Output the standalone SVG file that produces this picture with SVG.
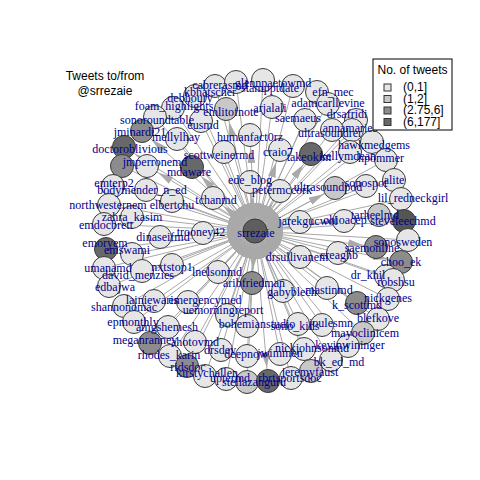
<svg xmlns="http://www.w3.org/2000/svg" width="480" height="480" viewBox="0 0 480 480">
<style>
.e{stroke:#a9a9a9;stroke-width:1;fill:none;marker-end:url(#ah)}
.b{marker-start:url(#ah)}
.node circle{stroke:#3a3a3a;stroke-width:1}
.c1{fill:#e6e6e6}.c2{fill:#c8c8c8}.c3{fill:#8c8c8c}.c4{fill:#686868}
.lbl{font-family:"Liberation Serif",serif;font-size:12px;fill:#00008b;text-anchor:middle}
.ttl{font-family:"Liberation Sans",Arial,sans-serif;font-size:12px;fill:#000}
</style>
<defs>
<marker id="ah" viewBox="0 0 28 8" markerWidth="28" markerHeight="8" refX="28" refY="4" orient="auto-start-reverse" markerUnits="userSpaceOnUse"><path d="M0,0 L15,4 L0,8 z" fill="#a9a9a9"/></marker>
</defs>
<rect width="480" height="480" fill="#fff"/>
<g id="connectors">
<circle cx="255" cy="231" r="25" fill="#b4b4b4"/>
<line class="e" x1="215" y1="86" x2="255" y2="231"/>
<line class="e" x1="195" y1="96" x2="255" y2="231"/>
<line class="e" x1="236" y1="82" x2="255" y2="231"/>
<line class="e" x1="263" y1="80" x2="255" y2="231"/>
<line class="e" x1="293" y1="86" x2="255" y2="231"/>
<line class="e" x1="317" y1="92" x2="255" y2="231"/>
<line class="e" x1="328" y1="104" x2="255" y2="231"/>
<line class="e" x1="356" y1="120" x2="255" y2="231"/>
<line class="e" x1="352" y1="130" x2="255" y2="231"/>
<line class="e" x1="332" y1="130" x2="255" y2="231"/>
<line class="e" x1="305" y1="120" x2="255" y2="231"/>
<line class="e" x1="272" y1="107" x2="255" y2="231"/>
<line class="e b" x1="226" y1="109" x2="255" y2="231"/>
<line class="e" x1="201" y1="121" x2="255" y2="231"/>
<line class="e" x1="173" y1="108" x2="255" y2="231"/>
<line class="e" x1="155" y1="117" x2="255" y2="231"/>
<line class="e" x1="177" y1="139" x2="255" y2="231"/>
<line class="e b" x1="250" y1="135" x2="255" y2="231"/>
<line class="e b" x1="142" y1="131" x2="255" y2="231"/>
<line class="e b" x1="124" y1="147" x2="255" y2="231"/>
<line class="e" x1="122" y1="166" x2="255" y2="231"/>
<line class="e b" x1="147" y1="166" x2="255" y2="231"/>
<line class="e b" x1="192" y1="167" x2="255" y2="231"/>
<line class="e" x1="224" y1="152" x2="255" y2="231"/>
<line class="e b" x1="280" y1="150" x2="255" y2="231"/>
<line class="e b" x1="311" y1="154" x2="255" y2="231"/>
<line class="e" x1="350" y1="152" x2="255" y2="231"/>
<line class="e" x1="372" y1="142" x2="255" y2="231"/>
<line class="e" x1="386" y1="160" x2="255" y2="231"/>
<line class="e b" x1="250" y1="182" x2="255" y2="231"/>
<line class="e b" x1="280" y1="191" x2="255" y2="231"/>
<line class="e b" x1="335" y1="188" x2="255" y2="231"/>
<line class="e" x1="366" y1="186" x2="255" y2="231"/>
<line class="e" x1="394" y1="180" x2="255" y2="231"/>
<line class="e" x1="401" y1="199" x2="255" y2="231"/>
<line class="e" x1="113" y1="186" x2="255" y2="231"/>
<line class="e" x1="146" y1="190" x2="255" y2="231"/>
<line class="e" x1="109" y1="205" x2="255" y2="231"/>
<line class="e" x1="172" y1="201" x2="255" y2="231"/>
<line class="e b" x1="213" y1="198" x2="255" y2="231"/>
<line class="e" x1="132" y1="217" x2="255" y2="231"/>
<line class="e" x1="104" y1="224" x2="255" y2="231"/>
<line class="e" x1="160" y1="237" x2="255" y2="231"/>
<line class="e" x1="203" y1="233" x2="255" y2="231"/>
<line class="e" x1="300" y1="222" x2="255" y2="231"/>
<line class="e" x1="344" y1="221" x2="255" y2="231"/>
<line class="e" x1="379" y1="215" x2="255" y2="231"/>
<line class="e b" x1="404" y1="221" x2="255" y2="231"/>
<line class="e b" x1="106" y1="249" x2="255" y2="231"/>
<line class="e" x1="132" y1="254" x2="255" y2="231"/>
<line class="e b" x1="376" y1="247" x2="255" y2="231"/>
<line class="e" x1="408" y1="240" x2="255" y2="231"/>
<line class="e b" x1="401" y1="262" x2="255" y2="231"/>
<line class="e" x1="338" y1="253" x2="255" y2="231"/>
<line class="e" x1="300" y1="257" x2="255" y2="231"/>
<line class="e" x1="104" y1="268" x2="255" y2="231"/>
<line class="e" x1="142" y1="271" x2="255" y2="231"/>
<line class="e" x1="172" y1="265" x2="255" y2="231"/>
<line class="e" x1="218" y1="272" x2="255" y2="231"/>
<line class="e" x1="386" y1="276" x2="255" y2="231"/>
<line class="e" x1="393" y1="280" x2="255" y2="231"/>
<line class="e b" x1="252" y1="283" x2="255" y2="231"/>
<line class="e" x1="283" y1="291" x2="255" y2="231"/>
<line class="e" x1="327" y1="288" x2="255" y2="231"/>
<line class="e" x1="109" y1="286" x2="255" y2="231"/>
<line class="e" x1="154" y1="301" x2="255" y2="231"/>
<line class="e" x1="188" y1="302" x2="255" y2="231"/>
<line class="e" x1="227" y1="315" x2="255" y2="231"/>
<line class="e" x1="388" y1="299" x2="255" y2="231"/>
<line class="e b" x1="357" y1="303" x2="255" y2="231"/>
<line class="e" x1="124" y1="306" x2="255" y2="231"/>
<line class="e" x1="378" y1="319" x2="255" y2="231"/>
<line class="e" x1="363" y1="333" x2="255" y2="231"/>
<line class="e" x1="348" y1="346" x2="255" y2="231"/>
<line class="e" x1="134" y1="322" x2="255" y2="231"/>
<line class="e" x1="168" y1="327" x2="255" y2="231"/>
<line class="e" x1="247" y1="326" x2="255" y2="231"/>
<line class="e" x1="298" y1="324" x2="255" y2="231"/>
<line class="e" x1="322" y1="325" x2="255" y2="231"/>
<line class="e b" x1="150" y1="343" x2="255" y2="231"/>
<line class="e" x1="195" y1="342" x2="255" y2="231"/>
<line class="e" x1="221" y1="350" x2="255" y2="231"/>
<line class="e" x1="304" y1="349" x2="255" y2="231"/>
<line class="e" x1="331" y1="360" x2="255" y2="231"/>
<line class="e" x1="170" y1="356" x2="255" y2="231"/>
<line class="e" x1="247" y1="356" x2="255" y2="231"/>
<line class="e" x1="280" y1="354" x2="255" y2="231"/>
<line class="e" x1="187" y1="366" x2="255" y2="231"/>
<line class="e" x1="205" y1="376" x2="255" y2="231"/>
<line class="e" x1="226" y1="379" x2="255" y2="231"/>
<line class="e" x1="247" y1="382" x2="255" y2="231"/>
<line class="e b" x1="268" y1="381" x2="255" y2="231"/>
<line class="e" x1="291" y1="378" x2="255" y2="231"/>
<line class="e" x1="311" y1="371" x2="255" y2="231"/>
</g>
<g id="nodes">
<g id="n-kbhatscher" class="node"><circle class="c1" cx="215" cy="86" r="11.5"/></g>
<g id="n-debhoury" class="node"><circle class="c1" cx="195" cy="96" r="11.5"/></g>
<g id="n-cabrerasmd" class="node"><circle class="c1" cx="236" cy="82" r="11.5"/></g>
<g id="n-glennpaetowmd" class="node"><circle class="c1" cx="263" cy="80" r="11.5"/></g>
<g id="n-stampptdate" class="node"><circle class="c1" cx="293" cy="86" r="11.5"/></g>
<g id="n-efn_mec" class="node"><circle class="c1" cx="317" cy="92" r="11.5"/></g>
<g id="n-adamcarllevine" class="node"><circle class="c1" cx="328" cy="104" r="11.5"/></g>
<g id="n-drsafridi" class="node"><circle class="c1" cx="356" cy="120" r="11.5"/></g>
<g id="n-annamaries" class="node"><circle class="c1" cx="352" cy="130" r="11.5"/></g>
<g id="n-ultrasoundrer" class="node"><circle class="c1" cx="332" cy="130" r="11.5"/></g>
<g id="n-saemaeus" class="node"><circle class="c1" cx="305" cy="120" r="11.5"/></g>
<g id="n-arjalali" class="node"><circle class="c1" cx="272" cy="107" r="11.5"/></g>
<g id="n-emlitofnote" class="node"><circle class="c2" cx="226" cy="109" r="11.5"/></g>
<g id="n-eusmd" class="node"><circle class="c1" cx="201" cy="121" r="11.5"/></g>
<g id="n-foam_highlights" class="node"><circle class="c1" cx="173" cy="108" r="11.5"/></g>
<g id="n-sonoroundtable" class="node"><circle class="c1" cx="155" cy="117" r="11.5"/></g>
<g id="n-mellylhay" class="node"><circle class="c1" cx="177" cy="139" r="11.5"/></g>
<g id="n-humanfact0rz" class="node"><circle class="c1" cx="250" cy="135" r="11.5"/></g>
<g id="n-jminardi21" class="node"><circle class="c3" cx="142" cy="131" r="11.5"/></g>
<g id="n-doctoroblivious" class="node"><circle class="c4" cx="124" cy="147" r="11.5"/></g>
<g id="n-unlabeled1" class="node"><circle class="c3" cx="122" cy="166" r="11.5"/></g>
<g id="n-jmperronemd" class="node"><circle class="c1" cx="147" cy="166" r="11.5"/></g>
<g id="n-mdaware" class="node"><circle class="c4" cx="192" cy="167" r="11.5"/></g>
<g id="n-scottweinermd" class="node"><circle class="c1" cx="224" cy="152" r="11.5"/></g>
<g id="n-craio7" class="node"><circle class="c1" cx="280" cy="150" r="11.5"/></g>
<g id="n-takeokim" class="node"><circle class="c4" cx="311" cy="154" r="11.5"/></g>
<g id="n-kellymdean" class="node"><circle class="c1" cx="350" cy="152" r="11.5"/></g>
<g id="n-hawkmedgems" class="node"><circle class="c1" cx="372" cy="142" r="11.5"/></g>
<g id="n-hpommer" class="node"><circle class="c1" cx="386" cy="160" r="11.5"/></g>
<g id="n-ede_blog" class="node"><circle class="c1" cx="250" cy="182" r="11.5"/></g>
<g id="n-petermccork" class="node"><circle class="c1" cx="280" cy="191" r="11.5"/></g>
<g id="n-ultrasoundpod" class="node"><circle class="c2" cx="335" cy="188" r="11.5"/></g>
<g id="n-sonospot" class="node"><circle class="c1" cx="366" cy="186" r="11.5"/></g>
<g id="n-alite" class="node"><circle class="c1" cx="394" cy="180" r="11.5"/></g>
<g id="n-lil_redneckgirl" class="node"><circle class="c1" cx="401" cy="199" r="11.5"/></g>
<g id="n-emterp2" class="node"><circle class="c1" cx="113" cy="186" r="11.5"/></g>
<g id="n-bodymender_n_ed" class="node"><circle class="c1" cx="146" cy="190" r="11.5"/></g>
<g id="n-northwesternem" class="node"><circle class="c1" cx="109" cy="205" r="11.5"/></g>
<g id="n-elbertchu" class="node"><circle class="c1" cx="172" cy="201" r="11.5"/></g>
<g id="n-tchanmd" class="node"><circle class="c1" cx="213" cy="198" r="11.5"/></g>
<g id="n-zahra_kasim" class="node"><circle class="c1" cx="132" cy="217" r="11.5"/></g>
<g id="n-emdocbrett" class="node"><circle class="c1" cx="104" cy="224" r="11.5"/></g>
<g id="n-dinaseifmd" class="node"><circle class="c1" cx="160" cy="237" r="11.5"/></g>
<g id="n-trooney42" class="node"><circle class="c1" cx="203" cy="233" r="11.5"/></g>
<g id="n-jarekgucwol" class="node"><circle class="c1" cx="300" cy="222" r="11.5"/></g>
<g id="n-ohioacep" class="node"><circle class="c1" cx="344" cy="221" r="11.5"/></g>
<g id="n-tarheelmd" class="node"><circle class="c2" cx="379" cy="215" r="11.5"/></g>
<g id="n-steveleechmd" class="node"><circle fill="#555" cx="404" cy="221" r="11.5"/></g>
<g id="n-emoryem" class="node"><circle class="c4" cx="106" cy="249" r="11.5"/></g>
<g id="n-emswami" class="node"><circle class="c1" cx="132" cy="254" r="11.5"/></g>
<g id="n-saemonline" class="node"><circle class="c3" cx="376" cy="247" r="11.5"/></g>
<g id="n-sonosweden" class="node"><circle class="c1" cx="408" cy="240" r="11.5"/></g>
<g id="n-choo_ek" class="node"><circle class="c3" cx="401" cy="262" r="11.5"/></g>
<g id="n-creaghb" class="node"><circle class="c1" cx="338" cy="253" r="11.5"/></g>
<g id="n-drsullivanem" class="node"><circle class="c1" cx="300" cy="257" r="11.5"/></g>
<g id="n-umanamd" class="node"><circle class="c1" cx="104" cy="268" r="11.5"/></g>
<g id="n-david_menzies" class="node"><circle class="c1" cx="142" cy="271" r="11.5"/></g>
<g id="n-nxtstop1" class="node"><circle class="c1" cx="172" cy="265" r="11.5"/></g>
<g id="n-lnelsonmd" class="node"><circle class="c1" cx="218" cy="272" r="11.5"/></g>
<g id="n-dr_khil" class="node"><circle class="c1" cx="386" cy="276" r="11.5"/></g>
<g id="n-robshsu" class="node"><circle class="c1" cx="393" cy="280" r="11.5"/></g>
<g id="n-aribfriedman" class="node"><circle class="c3" cx="252" cy="283" r="11.5"/></g>
<g id="n-gabyblech" class="node"><circle class="c1" cx="283" cy="291" r="11.5"/></g>
<g id="n-mastinmd" class="node"><circle class="c1" cx="327" cy="288" r="11.5"/></g>
<g id="n-edbajwa" class="node"><circle class="c1" cx="109" cy="286" r="11.5"/></g>
<g id="n-lainiewaris" class="node"><circle class="c1" cx="154" cy="301" r="11.5"/></g>
<g id="n-emergencymed" class="node"><circle class="c1" cx="188" cy="302" r="11.5"/></g>
<g id="n-uemorningreport" class="node"><circle class="c1" cx="227" cy="315" r="11.5"/></g>
<g id="n-nickgenes" class="node"><circle class="c1" cx="388" cy="299" r="11.5"/></g>
<g id="n-k_scottmd" class="node"><circle class="c3" cx="357" cy="303" r="11.5"/></g>
<g id="n-shannonomac" class="node"><circle class="c1" cx="124" cy="306" r="11.5"/></g>
<g id="n-blefkove" class="node"><circle class="c1" cx="378" cy="319" r="11.5"/></g>
<g id="n-mayoclinicem" class="node"><circle class="c2" cx="363" cy="333" r="11.5"/></g>
<g id="n-kevinwininger" class="node"><circle class="c1" cx="348" cy="346" r="11.5"/></g>
<g id="n-epmonthly" class="node"><circle class="c1" cx="134" cy="322" r="11.5"/></g>
<g id="n-amgshemesh" class="node"><circle class="c1" cx="168" cy="327" r="11.5"/></g>
<g id="n-bohemianstudio" class="node"><circle class="c1" cx="247" cy="326" r="11.5"/></g>
<g id="n-sono_kids" class="node"><circle class="c1" cx="298" cy="324" r="11.5"/></g>
<g id="n-joulesmn" class="node"><circle class="c1" cx="322" cy="325" r="11.5"/></g>
<g id="n-meganranney" class="node"><circle class="c3" cx="150" cy="343" r="11.5"/></g>
<g id="n-ahotovmd" class="node"><circle class="c1" cx="195" cy="342" r="11.5"/></g>
<g id="n-drsdev" class="node"><circle class="c1" cx="221" cy="350" r="11.5"/></g>
<g id="n-nickjohnsonmd" class="node"><circle class="c1" cx="304" cy="349" r="11.5"/></g>
<g id="n-bk_ed_md" class="node"><circle class="c1" cx="331" cy="360" r="11.5"/></g>
<g id="n-rhodes_karin" class="node"><circle class="c1" cx="170" cy="356" r="11.5"/></g>
<g id="n-deepnow" class="node"><circle class="c1" cx="247" cy="356" r="11.5"/></g>
<g id="n-jwimmen" class="node"><circle class="c1" cx="280" cy="354" r="11.5"/></g>
<g id="n-ridsdoc" class="node"><circle class="c3" cx="187" cy="366" r="11.5"/></g>
<g id="n-kirstychallen" class="node"><circle class="c1" cx="205" cy="376" r="11.5"/></g>
<g id="n-uptermd" class="node"><circle class="c1" cx="226" cy="379" r="11.5"/></g>
<g id="n-stellazanguru" class="node"><circle class="c2" cx="247" cy="382" r="11.5"/></g>
<g id="n-unlabeled2" class="node"><circle class="c4" cx="268" cy="381" r="11.5"/></g>
<g id="n-rbrtsportsdoc" class="node"><circle class="c1" cx="291" cy="378" r="11.5"/></g>
<g id="n-jeremyfaust" class="node"><circle class="c2" cx="311" cy="371" r="11.5"/></g>
<g id="n-srrezaie" class="node"><circle fill="#5e5e5e" cx="255" cy="231" r="12"/></g>
</g>
<g id="labels">
<text class="lbl" x="210" y="96">kbhatscher</text>
<text class="lbl" x="190" y="102">debhoury</text>
<text class="lbl" x="220" y="89">cabrerasmd</text>
<text class="lbl" x="273" y="87">glennpaetowmd</text>
<text class="lbl" x="270" y="92">stampptdate</text>
<text class="lbl" x="333" y="96">efn_mec</text>
<text class="lbl" x="328" y="107">adamcarllevine</text>
<text class="lbl" x="347" y="118">drsafridi</text>
<text class="lbl" x="350" y="132">annamaries</text>
<text class="lbl" x="330" y="137">ultrasoundrer</text>
<text class="lbl" x="298" y="122">saemaeus</text>
<text class="lbl" x="270" y="112">arjalali</text>
<text class="lbl" x="231" y="116">emlitofnote</text>
<text class="lbl" x="203" y="129">eusmd</text>
<text class="lbl" x="174" y="110">foam_highlights</text>
<text class="lbl" x="157" y="124">sonoroundtable</text>
<text class="lbl" x="176" y="141">mellylhay</text>
<text class="lbl" x="250" y="141">humanfact0rz</text>
<text class="lbl" x="140" y="136">jminardi21</text>
<text class="lbl" x="130" y="153">doctoroblivious</text>
<text class="lbl" x="155" y="166">jmperronemd</text>
<text class="lbl" x="189" y="176">mdaware</text>
<text class="lbl" x="219" y="159">scottweinermd</text>
<text class="lbl" x="278" y="156">craio7</text>
<text class="lbl" x="309" y="161">takeokim</text>
<text class="lbl" x="348" y="160">kellymdean</text>
<text class="lbl" x="374" y="149">hawkmedgems</text>
<text class="lbl" x="381" y="162">hpommer</text>
<text class="lbl" x="250" y="184">ede_blog</text>
<text class="lbl" x="282" y="194">petermccork</text>
<text class="lbl" x="328" y="191">ultrasoundpod</text>
<text class="lbl" x="366" y="187">sonospot</text>
<text class="lbl" x="394" y="184">alite</text>
<text class="lbl" x="413" y="202">lil_redneckgirl</text>
<text class="lbl" x="114" y="187">emterp2</text>
<text class="lbl" x="142" y="194">bodymender_n_ed</text>
<text class="lbl" x="108" y="209">northwesternem</text>
<text class="lbl" x="172" y="209">elbertchu</text>
<text class="lbl" x="216" y="204">tchanmd</text>
<text class="lbl" x="132" y="221">zahra_kasim</text>
<text class="lbl" x="106" y="229">emdocbrett</text>
<text class="lbl" x="163" y="241">dinaseifmd</text>
<text class="lbl" x="201" y="236">trooney42</text>
<text class="lbl" x="256" y="237">srrezaie</text>
<text class="lbl" x="308" y="225">jarekgucwol</text>
<text class="lbl" x="345" y="224">ohioacep</text>
<text class="lbl" x="375" y="219">tarheelmd</text>
<text class="lbl" x="403" y="225">steveleechmd</text>
<text class="lbl" x="105" y="247">emoryem</text>
<text class="lbl" x="127" y="254">emswami</text>
<text class="lbl" x="372" y="252">saemonline</text>
<text class="lbl" x="403" y="246">sonosweden</text>
<text class="lbl" x="401" y="266">choo_ek</text>
<text class="lbl" x="339" y="259">creaghb</text>
<text class="lbl" x="297" y="261">drsullivanem</text>
<text class="lbl" x="108" y="272">umanamd</text>
<text class="lbl" x="138" y="279">david_menzies</text>
<text class="lbl" x="172" y="271">nxtstop1</text>
<text class="lbl" x="217" y="276">lnelsonmd</text>
<text class="lbl" x="368" y="279">dr_khil</text>
<text class="lbl" x="396" y="286">robshsu</text>
<text class="lbl" x="254" y="287">aribfriedman</text>
<text class="lbl" x="292" y="296">gabyblech</text>
<text class="lbl" x="329" y="294">mastinmd</text>
<text class="lbl" x="115" y="291">edbajwa</text>
<text class="lbl" x="152" y="304">lainiewaris</text>
<text class="lbl" x="205" y="304">emergencymed</text>
<text class="lbl" x="223" y="314">uemorningreport</text>
<text class="lbl" x="388" y="302">nickgenes</text>
<text class="lbl" x="357" y="309">k_scottmd</text>
<text class="lbl" x="124" y="311">shannonomac</text>
<text class="lbl" x="378" y="322">blefkove</text>
<text class="lbl" x="365" y="337">mayoclinicem</text>
<text class="lbl" x="350" y="349">kevinwininger</text>
<text class="lbl" x="133" y="326">epmonthly</text>
<text class="lbl" x="167" y="331">amgshemesh</text>
<text class="lbl" x="257" y="328">bohemianstudio</text>
<text class="lbl" x="295" y="330">sono_kids</text>
<text class="lbl" x="331" y="327">joulesmn</text>
<text class="lbl" x="145" y="344">meganranney</text>
<text class="lbl" x="195" y="346">ahotovmd</text>
<text class="lbl" x="220" y="354">drsdev</text>
<text class="lbl" x="312" y="352">nickjohnsonmd</text>
<text class="lbl" x="339" y="366">bk_ed_md</text>
<text class="lbl" x="169" y="359">rhodes_karin</text>
<text class="lbl" x="246" y="358">deepnow</text>
<text class="lbl" x="280" y="357">jwimmen</text>
<text class="lbl" x="188" y="371">ridsdoc</text>
<text class="lbl" x="207" y="377">kirstychallen</text>
<text class="lbl" x="230" y="382">uptermd</text>
<text class="lbl" x="254" y="386">stellazanguru</text>
<text class="lbl" x="290" y="382">rbrtsportsdoc</text>
<text class="lbl" x="310" y="376">jeremyfaust</text>
</g>
<g id="title">
<text class="ttl" x="105" y="80" text-anchor="middle">Tweets to/from</text>
<text class="ttl" x="105" y="95" text-anchor="middle">@srrezaie</text>
</g>
<g id="legend">
<rect x="373" y="59" width="79" height="71" fill="#fff" stroke="#000" stroke-width="1"/>
<text class="ttl" x="412.5" y="74" text-anchor="middle">No. of tweets</text>
<rect x="384" y="84" width="7" height="7" class="c1" stroke="#333"/>
<rect x="384" y="95.5" width="7" height="7" class="c2" stroke="#333"/>
<rect x="384" y="107" width="7" height="7" class="c3" stroke="#333"/>
<rect x="384" y="118.5" width="7" height="7" class="c4" stroke="#333"/>
<text class="ttl" x="403" y="91">(0,1]</text>
<text class="ttl" x="403" y="102.5">(1,2]</text>
<text class="ttl" x="403" y="114">(2.75,6]</text>
<text class="ttl" x="403" y="125.5">(6,177]</text>
</g>
</svg>
